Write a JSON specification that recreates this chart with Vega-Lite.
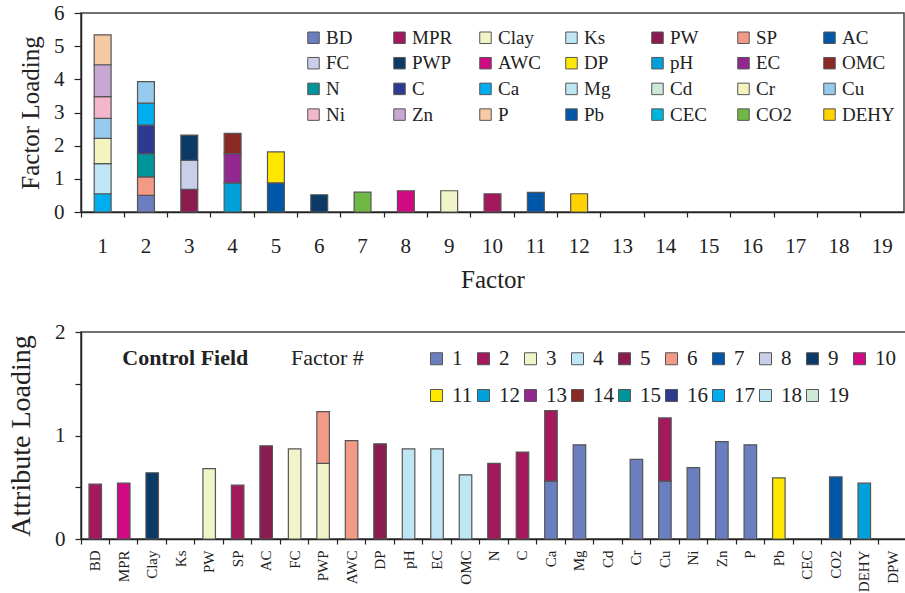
{
  "$schema": "https://vega.github.io/schema/vega-lite/v6.json",
  "autosize": {"type": "pad"},
  "padding": {"left": 6, "top": 1, "right": 0, "bottom": 0},
  "background": "white",
  "config": {
    "font": "Liberation Serif",
    "view": {"stroke": "#444", "strokeWidth": 1.5},
    "axis": {
      "domainColor": "#222", "domainWidth": 1.5, "tickColor": "#222", "tickWidth": 1.2,
      "grid": false, "labelColor": "#222", "titleColor": "#222",
      "labelFont": "Liberation Serif", "titleFont": "Liberation Serif", "titleFontWeight": "normal"
    },
    "legend": {"labelFont": "Liberation Serif", "titleFont": "Liberation Serif", "labelColor": "#222", "titleColor": "#222"}
  },
  "datasets": {
    "top": [
      {"factor": 1, "attr": "Ca", "value": 0.55},
      {"factor": 1, "attr": "Mg", "value": 0.91},
      {"factor": 1, "attr": "Cr", "value": 0.76},
      {"factor": 1, "attr": "Cu", "value": 0.60},
      {"factor": 1, "attr": "Ni", "value": 0.66},
      {"factor": 1, "attr": "Zn", "value": 0.96},
      {"factor": 1, "attr": "P", "value": 0.90},
      {"factor": 2, "attr": "BD", "value": 0.50},
      {"factor": 2, "attr": "SP", "value": 0.56},
      {"factor": 2, "attr": "N", "value": 0.70},
      {"factor": 2, "attr": "C", "value": 0.86},
      {"factor": 2, "attr": "Ca", "value": 0.66},
      {"factor": 2, "attr": "Cu", "value": 0.65},
      {"factor": 3, "attr": "PW", "value": 0.68},
      {"factor": 3, "attr": "FC", "value": 0.88},
      {"factor": 3, "attr": "PWP", "value": 0.76},
      {"factor": 4, "attr": "pH", "value": 0.88},
      {"factor": 4, "attr": "EC", "value": 0.88},
      {"factor": 4, "attr": "OMC", "value": 0.61},
      {"factor": 5, "attr": "AC", "value": 0.88},
      {"factor": 5, "attr": "DP", "value": 0.93},
      {"factor": 6, "attr": "PWP", "value": 0.52},
      {"factor": 7, "attr": "CO2", "value": 0.60},
      {"factor": 8, "attr": "AWC", "value": 0.64},
      {"factor": 9, "attr": "Clay", "value": 0.64},
      {"factor": 10, "attr": "MPR", "value": 0.55},
      {"factor": 11, "attr": "Pb", "value": 0.59},
      {"factor": 12, "attr": "DEHY", "value": 0.55}
    ],
    "bottom": [
      {"attr": "BD", "factor": 2, "value": 0.53},
      {"attr": "MPR", "factor": 10, "value": 0.54},
      {"attr": "Clay", "factor": 9, "value": 0.64},
      {"attr": "PW", "factor": 3, "value": 0.68},
      {"attr": "SP", "factor": 2, "value": 0.52},
      {"attr": "AC", "factor": 5, "value": 0.90},
      {"attr": "FC", "factor": 3, "value": 0.87},
      {"attr": "PWP", "factor": 3, "value": 0.73},
      {"attr": "PWP", "factor": 6, "value": 0.50},
      {"attr": "AWC", "factor": 6, "value": 0.95},
      {"attr": "DP", "factor": 5, "value": 0.92},
      {"attr": "pH", "factor": 4, "value": 0.87},
      {"attr": "EC", "factor": 4, "value": 0.87},
      {"attr": "OMC", "factor": 4, "value": 0.62},
      {"attr": "N", "factor": 2, "value": 0.73},
      {"attr": "C", "factor": 2, "value": 0.84},
      {"attr": "Ca", "factor": 1, "value": 0.56},
      {"attr": "Ca", "factor": 2, "value": 0.68},
      {"attr": "Mg", "factor": 1, "value": 0.91},
      {"attr": "Cr", "factor": 1, "value": 0.77},
      {"attr": "Cu", "factor": 1, "value": 0.56},
      {"attr": "Cu", "factor": 2, "value": 0.61},
      {"attr": "Ni", "factor": 1, "value": 0.69},
      {"attr": "Zn", "factor": 1, "value": 0.94},
      {"attr": "P", "factor": 1, "value": 0.91},
      {"attr": "Pb", "factor": 11, "value": 0.59},
      {"attr": "CO2", "factor": 7, "value": 0.60},
      {"attr": "DEHY", "factor": 12, "value": 0.54}
    ],
    "caption": [{"t": "Control Field"}]
  },
  "spacing": 27,
  "resolve": {"scale": {"color": "independent", "x": "independent", "y": "independent"}, "legend": {"color": "independent"}},
  "vconcat": [
    {
      "width": 823,
      "height": 199,
      "data": {"name": "top"},
      "transform": [
        {"calculate": "indexof(['BD','MPR','Clay','Ks','PW','SP','AC','FC','PWP','AWC','DP','pH','EC','OMC','N','C','Ca','Mg','Cd','Cr','Cu','Ni','Zn','P','Pb','CEC','CO2','DEHY'], datum.attr)", "as": "ord"}
      ],
      "mark": {"type": "bar", "width": {"band": 0.39}, "stroke": "#555", "strokeWidth": 1.2},
      "encoding": {
        "x": {
          "field": "factor", "type": "ordinal",
          "scale": {"domain": [1,2,3,4,5,6,7,8,9,10,11,12,13,14,15,16,17,18,19], "paddingInner": 0, "paddingOuter": 0},
          "axis": {"title": "Factor", "labelAngle": 0, "bandPosition": 0, "tickSize": 5, "labelPadding": 18, "labelFontSize": 21, "titleFontSize": 25, "titlePadding": 11}
        },
        "y": {
          "field": "value", "type": "quantitative", "stack": "zero",
          "scale": {"domain": [0, 6], "nice": false},
          "axis": {"title": "Factor Loading", "values": [0,1,2,3,4,5,6], "tickSize": 7, "labelPadding": 10, "labelFontSize": 21, "titleFontSize": 25, "titlePadding": 10}
        },
        "color": {
          "field": "attr", "type": "nominal",
          "scale": {
            "domain": ["BD","MPR","Clay","Ks","PW","SP","AC","FC","PWP","AWC","DP","pH","EC","OMC","N","C","Ca","Mg","Cd","Cr","Cu","Ni","Zn","P","Pb","CEC","CO2","DEHY"],
            "range": ["#6B7FC0","#A3195B","#F1F4C9","#BFE6F4","#8B1C4F","#F29A86","#0057A8","#C9CFE8","#0C3A66","#D10A84","#FFE800","#00A1DB","#92278F","#8B2A24","#00959A","#2E3A90","#00AEEF","#BFE6F4","#CDE8D6","#F5F3BE","#97CBEE","#F4B6CB","#C8A7D3","#F6CBA3","#0057A8","#00B5DD","#70B844","#FFD200"]
          },
          "legend": {
            "orient": "none", "legendX": 223, "legendY": 15, "direction": "horizontal", "columns": 7,
            "title": null, "symbolType": "square", "symbolSize": 132, "symbolStrokeColor": "#555", "symbolStrokeWidth": 1,
            "symbolOpacity": 1, "labelFontSize": 19, "labelOffset": 3, "columnPadding": 11, "rowPadding": 5.7,
            "gridAlign": "all", "padding": 0, "labelLimit": 200
          }
        },
        "order": {"field": "ord", "type": "quantitative"}
      }
    },
    {
      "width": 826,
      "height": 207,
      "layer": [
        {
          "data": {"name": "bottom"},
          "mark": {"type": "bar", "width": {"band": 0.44}, "stroke": "#555", "strokeWidth": 1.2},
          "encoding": {
            "x": {
              "field": "attr", "type": "nominal",
              "scale": {"domain": ["BD","MPR","Clay","Ks","PW","SP","AC","FC","PWP","AWC","DP","pH","EC","OMC","N","C","Ca","Mg","Cd","Cr","Cu","Ni","Zn","P","Pb","CEC","CO2","DEHY","DPW"], "paddingInner": 0, "paddingOuter": 0},
              "axis": {"title": null, "labelAngle": -90, "labelAlign": "right", "labelBaseline": "middle", "labelFontSize": 15, "bandPosition": 0, "tickSize": 5, "labelPadding": 6}
            },
            "y": {
              "field": "value", "type": "quantitative", "stack": "zero",
              "scale": {"domain": [0, 2], "nice": false},
              "axis": {"title": "Attribute Loading", "values": [0, 0.5, 1, 1.5, 2], "labelExpr": "datum.value % 1 === 0 ? format(datum.value, 'd') : ''", "tickSize": 6, "labelPadding": 10, "labelFontSize": 21, "titleFontSize": 28, "titlePadding": 19}
            },
            "color": {
              "field": "factor", "type": "nominal",
              "scale": {
                "domain": [1,2,3,4,5,6,7,8,9,10,11,12,13,14,15,16,17,18,19],
                "range": ["#6B7FC0","#A3195B","#F1F4C9","#BFE6F4","#8B1C4F","#F29A86","#0057A8","#C9CFE8","#0C3A66","#D10A84","#FFE800","#00A1DB","#92278F","#8B2A24","#00959A","#2E3A90","#00AEEF","#BFE6F4","#CDE8D6"]
              },
              "legend": {
                "orient": "none", "legendX": 210, "legendY": 16, "direction": "horizontal", "columns": 10,
                "title": "Factor #", "titleOrient": "left", "titleAnchor": "start", "titleBaseline": "top", "titleFontSize": 22, "titleFontWeight": "normal", "titlePadding": 62,
                "symbolType": "square", "symbolSize": 144, "symbolStrokeColor": "#555", "symbolStrokeWidth": 1, "symbolOpacity": 1,
                "labelFontSize": 21, "labelOffset": 5, "columnPadding": 0, "rowPadding": 15, "gridAlign": "all", "padding": 0
              }
            },
            "order": {"field": "factor", "type": "quantitative"}
          }
        },
        {
          "data": {"name": "caption"},
          "mark": {"type": "text", "fontWeight": "bold", "fontSize": 22, "align": "left", "baseline": "middle", "dx": 27, "color": "#222"},
          "encoding": {
            "x": {"datum": "BD"},
            "y": {"datum": 1.75},
            "text": {"field": "t"}
          }
        }
      ]
    }
  ]
}
